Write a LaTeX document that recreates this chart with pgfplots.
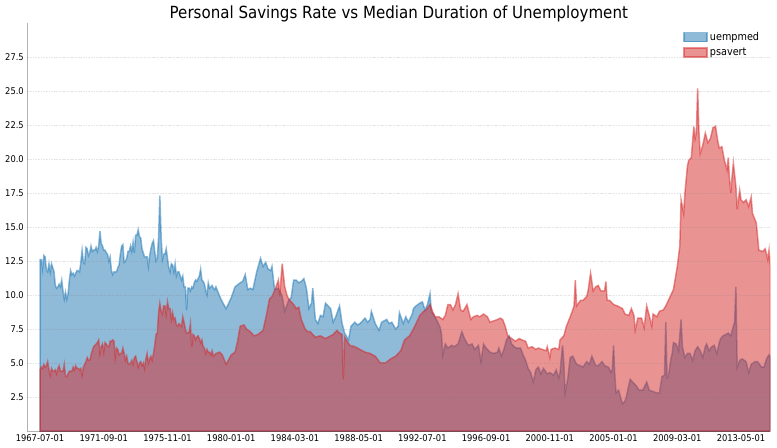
\documentclass[border=0pt]{standalone}
\usepackage{fontspec}
\setmainfont{DejaVu Sans}[FakeStretch=0.9]
\usepackage{pgfplots}
\pgfplotsset{compat=1.18}
\definecolor{tabblue}{HTML}{1F77B4}
\definecolor{tabred}{HTML}{D62728}

\begin{document}
\begin{tikzpicture}
\path[use as bounding box] (-27.3bp,-17bp) rectangle (749.7bp,431bp);
\begin{axis}[
    at={(0,0)}, anchor=south west,
    scale only axis,
    width=743bp, height=408bp,
    xmin=-10, xmax=573,
    ymin=0, ymax=30,
    axis on top,
    axis x line*=bottom, axis y line*=left,
    axis line style={-, draw=black, opacity=0.3},
    major tick length=0pt,
    xtick={0,50,...,550},
    xticklabels={1967-07-01,1971-09-01,1975-11-01,1980-01-01,1984-03-01,1988-05-01,1992-07-01,1996-09-01,2000-11-01,2005-01-01,2009-03-01,2013-05-01},
    ytick={2.5,5,...,27.5},
    yticklabel style={/pgf/number format/.cd, fixed, fixed zerofill, precision=1},
    /pgf/number format/assume math mode=true,
    ticklabel style={font=\fontsize{9.3}{11}\selectfont},
    ymajorgrids,
    grid style={draw=gray, opacity=0.2, line width=0.5bp, dash pattern=on 1.85bp off 0.8bp},
    every axis title shift=0pt,
    title={Personal Savings Rate vs Median Duration of Unemployment},
    title style={at={(0.5,1)}, anchor=base, yshift=4.5bp, inner sep=0pt, font=\fontsize{16.8}{19}\selectfont},
    legend style={at={(1,1)}, anchor=north east, xshift=-6bp, yshift=-5bp, draw=none, fill=none,
        font=\fontsize{10.8}{12}\selectfont, row sep=2bp},
    legend cell align=left,
    legend image code/.code={\draw[#1] (0bp,-4.5bp) rectangle (23bp,4.5bp);},
]
% blue area: values of the savings rate, labelled uempmed as in the original figure
\addplot[fill=tabblue, draw=tabblue, fill opacity=0.5, draw opacity=0.5, line width=1.5bp] coordinates {
(0,12.6)(1,12.6)(2,11.9)(3,12.9)(4,12.8)(5,11.8)
(6,11.7)(7,12.3)(8,11.7)(9,12.3)(10,12.0)(11,11.7)(12,10.7)(13,10.5)(14,10.6)(15,10.8)(16,10.6)(17,11.1)
(18,10.3)(19,9.7)(20,10.2)(21,9.7)(22,10.1)(23,11.1)(24,11.8)(25,11.5)(26,11.6)(27,11.4)(28,11.6)(29,11.8)
(30,11.8)(31,11.7)(32,12.4)(33,13.3)(34,12.4)(35,12.3)(36,13.5)(37,13.4)(38,12.9)(39,13.1)(40,13.6)(41,13.2)
(42,13.3)(43,13.3)(44,13.5)(45,13.2)(46,13.6)(47,14.7)(48,13.8)(49,13.6)(50,13.3)(51,13.3)(52,13.1)(53,13.0)
(54,12.5)(55,12.8)(56,11.8)(57,11.5)(58,11.7)(59,11.7)(60,11.7)(61,12.0)(62,12.2)(63,13.0)(64,13.6)(65,13.7)
(66,12.4)(67,12.5)(68,12.7)(69,13.2)(70,13.2)(71,13.6)(72,13.2)(73,13.9)(74,13.1)(75,14.4)(76,14.4)(77,14.8)
(78,14.3)(79,14.2)(80,13.4)(81,13.1)(82,12.8)(83,12.8)(84,12.8)(85,12.1)(86,12.9)(87,13.4)(88,13.8)(89,14.0)
(90,13.2)(91,12.5)(92,12.7)(93,14.2)(94,17.3)(95,14.3)(96,12.6)(97,13.0)(98,13.0)(99,13.4)(100,12.7)(101,12.0)
(102,11.7)(103,12.3)(104,12.2)(105,11.7)(106,12.3)(107,11.4)(108,11.7)(109,11.7)(110,11.4)(111,11.1)(112,11.4)(113,10.6)
(114,10.6)(115,8.9)(116,10.5)(117,10.5)(118,10.3)(119,10.6)(120,10.5)(121,10.9)(122,11.1)(123,11.0)(124,11.2)(125,11.4)
(126,11.9)(127,11.1)(128,11.0)(129,10.8)(130,10.3)(131,10.0)(132,10.9)(133,10.5)(134,10.6)(135,10.7)(136,10.5)(137,10.4)
(138,10.6)(141,9.9)(143,9.5)(146,9.0)(148,9.4)(150,9.8)(153,10.6)(157,10.9)(159,11.0)(161,11.5)(163,10.4)(165,10.5)
(167,10.4)(170,11.7)(173,12.7)(175,12.1)(177,12.4)(179,11.9)(181,11.8)(182,12.1)(184,10.4)(187,10.5)(190,9.9)(192,8.8)
(195,9.6)(197,9.8)(199,11.1)(201,11.1)(203,10.9)(205,11.0)(207,11.2)(209,10.5)(211,9.0)(213,9.4)(214,10.5)(216,8.2)
(218,7.9)(220,8.5)(222,8.4)(224,9.4)(226,9.2)(228,9.0)(230,8.0)(232,8.4)(235,9.2)(237,7.9)(239,7.2)(242,6.7)
(244,7.7)(247,8.0)(249,7.8)(251,7.9)(253,8.1)(255,8.3)(257,8.0)(259,8.2)(260,8.8)(263,7.9)(266,7.4)(268,8.0)
(270,8.1)(272,8.2)(274,7.9)(276,8.0)(279,7.5)(281,7.7)(282,8.7)(285,7.9)(287,8.4)(289,8.0)(292,8.6)(293,9.0)
(295,9.2)(298,9.4)(300,9.5)(302,8.9)(304,9.3)(306,10.1)(307,8.8)(309,8.5)(311,8.2)(314,7.6)(315,7.1)(316,5.6)
(318,6.4)(320,6.1)(323,6.3)(325,6.2)(328,6.4)(331,7.3)(333,6.8)(336,6.3)(339,6.4)(341,6.0)(344,6.3)(346,5.1)
(348,6.4)(350,6.1)(353,5.8)(356,5.7)(359,5.8)(360,6.1)(362,5.5)(364,6.0)(366,6.7)(368,7.0)(370,6.4)(372,6.2)
(374,6.1)(377,6.1)(379,5.6)(381,5.2)(383,4.6)(385,4.3)(387,3.6)(389,4.5)(391,4.7)(393,4.2)(395,4.6)(398,4.2)
(400,4.3)(403,4.1)(405,4.5)(407,3.9)(408,4.3)(410,6.3)(411,5.0)(412,2.8)(414,3.8)(416,5.4)(418,5.5)(421,4.9)
(424,4.8)(426,4.7)(429,5.1)(431,4.9)(433,5.5)(436,4.8)(438,4.8)(441,5.1)(443,4.8)(446,4.7)(448,4.3)(449,4.5)
(450,6.3)(451,4.1)(452,2.8)(454,3.0)(456,2.3)(457,2.0)(459,2.2)(460,2.5)(463,3.8)(465,3.6)(468,3.3)(470,3.0)
(473,3.0)(476,3.6)(478,3.0)(481,2.9)(484,2.8)(486,2.8)(488,4.0)(490,4.1)(491,8.0)(492,3.9)(493,4.0)(495,5.3)
(496,5.7)(497,6.5)(499,6.4)(501,5.9)(503,8.2)(504,6.2)(506,5.4)(508,5.7)(510,5.7)(512,5.2)(514,5.9)(516,6.2)
(518,5.9)(520,5.4)(522,6.2)(523,6.4)(525,5.9)(527,6.2)(529,6.3)(531,5.7)(533,6.5)(534,6.8)(536,7.0)(538,7.1)
(540,7.2)(542,7.0)(544,7.7)(545,8.0)(546,10.6)(547,4.7)(549,5.2)(551,5.3)(554,5.1)(556,4.3)(558,4.9)(561,5.1)
(563,5.1)(566,4.7)(568,4.7)(570,5.3)(572,5.6)(573,5.4)
} \closedcycle;
\addlegendentry{uempmed}
% red area: values of the unemployment duration, labelled psavert as in the original figure
\addplot[fill=tabred, draw=tabred, fill opacity=0.5, draw opacity=0.5, line width=1.5bp] coordinates {
(0,4.5)(1,4.7)(2,4.6)(3,4.9)(4,4.7)(5,4.8)
(6,5.1)(7,4.5)(8,4.1)(9,4.6)(10,4.4)(11,4.4)(12,4.5)(13,4.2)(14,4.6)(15,4.8)(16,4.4)(17,4.4)
(18,4.4)(19,4.9)(20,4.0)(21,4.0)(22,4.2)(23,4.4)(24,4.4)(25,4.4)(26,4.7)(27,4.5)(28,4.8)(29,4.6)
(30,4.6)(31,4.5)(32,4.6)(33,4.1)(34,4.7)(35,4.9)(36,5.1)(37,5.4)(38,5.2)(39,5.2)(40,5.6)(41,5.9)
(42,6.2)(43,6.3)(44,6.4)(45,6.5)(46,6.7)(47,5.7)(48,6.2)(49,6.4)(50,5.8)(51,6.5)(52,6.4)(53,6.2)
(54,6.2)(55,6.6)(56,6.6)(57,6.7)(58,6.6)(59,5.4)(60,6.1)(61,6.0)(62,5.6)(63,5.7)(64,5.7)(65,6.1)
(66,5.7)(67,5.2)(68,5.5)(69,5.0)(70,4.9)(71,5.0)(72,5.2)(73,4.9)(74,5.4)(75,5.5)(76,5.1)(77,4.7)
(78,5.0)(79,5.1)(80,4.8)(81,5.0)(82,4.6)(83,5.3)(84,5.7)(85,5.0)(86,5.3)(87,5.5)(88,5.2)(89,5.7)
(90,6.3)(91,7.1)(92,7.2)(93,8.7)(94,9.4)(95,8.8)(96,8.6)(97,9.2)(98,9.2)(99,8.6)(100,9.5)(101,9.0)
(102,9.0)(103,8.2)(104,8.7)(105,8.2)(106,8.3)(107,7.8)(108,7.7)(109,7.9)(110,7.8)(111,7.7)(112,8.4)(113,8.0)
(114,7.5)(115,7.2)(116,7.2)(117,7.3)(118,7.9)(119,6.2)(120,7.1)(121,7.0)(122,6.7)(123,6.9)(124,7.0)(125,6.8)
(126,6.5)(127,6.7)(128,6.2)(129,6.1)(130,5.7)(131,6.0)(132,5.8)(133,5.8)(134,5.6)(135,5.9)(136,5.5)(137,5.6)
(138,5.7)(141,5.8)(143,5.6)(146,4.9)(150,5.6)(153,5.8)(155,6.6)(157,7.7)(160,7.8)(162,7.5)(165,7.3)(168,7.0)
(171,7.1)(175,7.4)(178,8.7)(180,9.7)(182,9.9)(184,10.3)(187,11.1)(188,9.9)(190,12.3)(192,10.6)(194,9.9)(196,9.6)
(199,9.3)(201,9.0)(203,9.1)(205,8.2)(208,7.5)(210,7.3)(212,7.3)(216,6.9)(220,7.0)(224,6.8)(228,7.0)(230,7.1)
(233,7.4)(235,7.2)(237,7.1)(238,3.8)(239,6.9)(243,6.3)(247,6.2)(251,6.0)(255,5.8)(259,5.7)(263,5.5)(267,5.0)
(271,5.0)(275,5.3)(279,5.5)(283,5.9)(286,6.7)(290,7.0)(294,7.7)(298,8.5)(301,8.8)(303,8.9)(306,9.3)(308,8.8)
(310,8.4)(313,8.4)(316,8.2)(318,8.5)(320,9.3)(322,9.3)(324,8.9)(326,9.3)(328,10.1)(330,8.9)(332,8.8)(335,9.3)
(338,8.2)(340,8.4)(343,8.5)(345,8.4)(348,8.6)(351,8.4)(353,8.0)(356,8.1)(359,8.2)(361,8.3)(363,8.2)(365,7.7)
(367,7.0)(370,6.8)(373,6.6)(376,6.8)(378,6.7)(381,6.6)(383,6.1)(386,6.2)(389,6.0)(391,6.1)(394,6.0)(397,5.9)
(398,6.2)(400,5.4)(401,6.0)(404,6.1)(407,6.0)(408,6.7)(411,7.0)(413,7.7)(416,8.4)(418,8.9)(419,9.2)(420,11.1)
(421,9.2)(424,9.6)(426,9.6)(429,9.9)(430,10.3)(432,11.6)(434,10.3)(436,10.6)(438,10.7)(440,10.3)(443,10.3)(444,11.0)
(445,9.6)(447,9.6)(450,9.3)(453,9.2)(455,9.1)(457,9.0)(459,8.6)(462,8.5)(464,9.0)(466,8.5)(467,7.4)(469,8.3)
(472,8.3)(474,7.6)(476,9.2)(478,8.5)(480,7.7)(481,8.6)(484,8.4)(486,8.8)(489,8.9)(491,9.2)(494,9.8)(497,10.4)
(500,12.1)(502,13.6)(503,17.0)(505,16.0)(506,17.5)(508,19.5)(509,19.9)(511,20.1)(513,22.4)(514,21.5)(515,22.0)(516,25.2)
(517,22.0)(518,20.4)(520,21.0)(522,21.9)(524,21.2)(526,21.5)(528,22.3)(530,22.4)(532,21.2)(533,20.8)(535,20.9)(537,19.9)
(539,19.2)(540,20.1)(541,18.5)(542,17.5)(543,18.7)(544,19.7)(546,18.0)(547,16.3)(549,17.7)(550,17.0)(552,16.8)(554,17.0)
(556,16.5)(558,17.2)(559,16.0)(562,15.3)(564,13.3)(567,13.2)(569,13.4)(571,12.6)(572,13.3)(573,12.1)
} \closedcycle;
\addlegendentry{psavert}
\end{axis}
\end{tikzpicture}
\end{document}
